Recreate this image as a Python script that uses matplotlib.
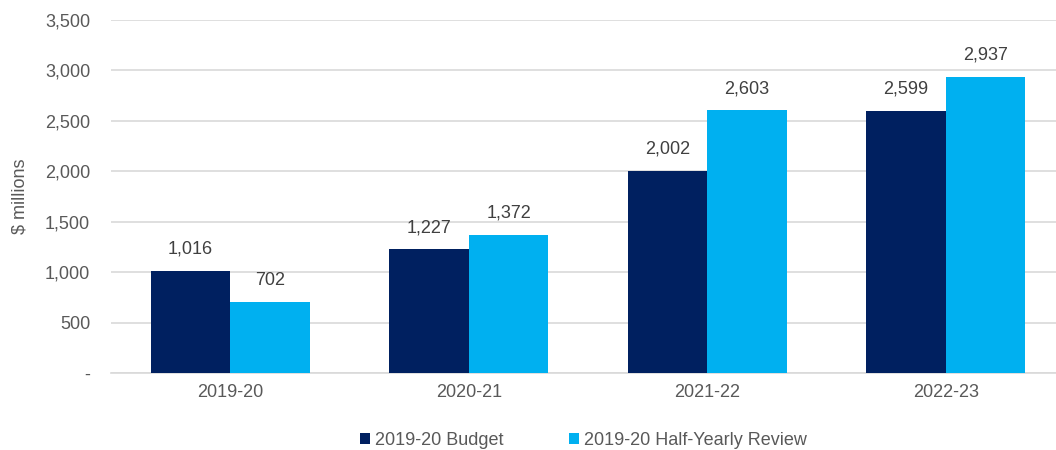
import numpy as np
import matplotlib.pyplot as plt

categories = ["2019-20", "2020-21", "2021-22", "2022-23"]
budget = [1016, 1227, 2002, 2599]
review = [702, 1372, 2603, 2937]
series_names = ["2019-20 Budget", "2019-20 Half-Yearly Review"]

plt.rcParams["font.family"] = ["Liberation Sans", "DejaVu Sans"]
txt = "#595959"

fig = plt.figure(figsize=(10.56, 4.5), dpi=100)
ax = fig.add_axes([111 / 1056, 1 - 373 / 450, 954 / 1056, 353 / 450])

x = np.arange(len(categories))
w = 1 / 3
b1 = ax.bar(x - w / 2, budget, w, color="#002060", label=series_names[0], zorder=3)
b2 = ax.bar(x + w / 2, review, w, color="#00B0F0", label=series_names[1], zorder=3)

for bars in (b1, b2):
    for r in bars:
        ax.annotate(f"{r.get_height():,.0f}", (r.get_x() + r.get_width() / 2, r.get_height()),
                    xytext=(0, 9.5), textcoords="offset points", ha="center", va="bottom",
                    fontsize=13, color="#404040")

ax.set_xlim(-0.5, len(categories) - 0.5)
ax.set_ylim(0, 3500)
ax.set_yticks(np.arange(0, 3501, 500))
ax.set_yticklabels(["-"] + [f"{v:,}" for v in range(500, 3501, 500)])
ax.set_xticks(x)
ax.set_xticklabels(categories)
ax.tick_params(length=0, labelsize=13, colors=txt, pad=8)
ax.tick_params(axis="y", pad=15)
ax.yaxis.grid(True, color="#d9d9d9", linewidth=1.2, zorder=0)
for s in ["top", "right", "left"]:
    ax.spines[s].set_visible(False)
ax.spines["bottom"].set_color("#d9d9d9")
ax.spines["bottom"].set_linewidth(1.2)
ax.set_ylabel("$ millions", color=txt, fontsize=13, labelpad=12)

fig.legend(loc="lower left", bbox_to_anchor=(360 / 1056, 0.003), ncol=2, frameon=False,
           fontsize=13, labelcolor=txt, handlelength=0.55, handleheight=0.55,
           handletextpad=0.3, columnspacing=3.6, borderpad=0, borderaxespad=0)

fig.savefig("out.png", dpi=100)
